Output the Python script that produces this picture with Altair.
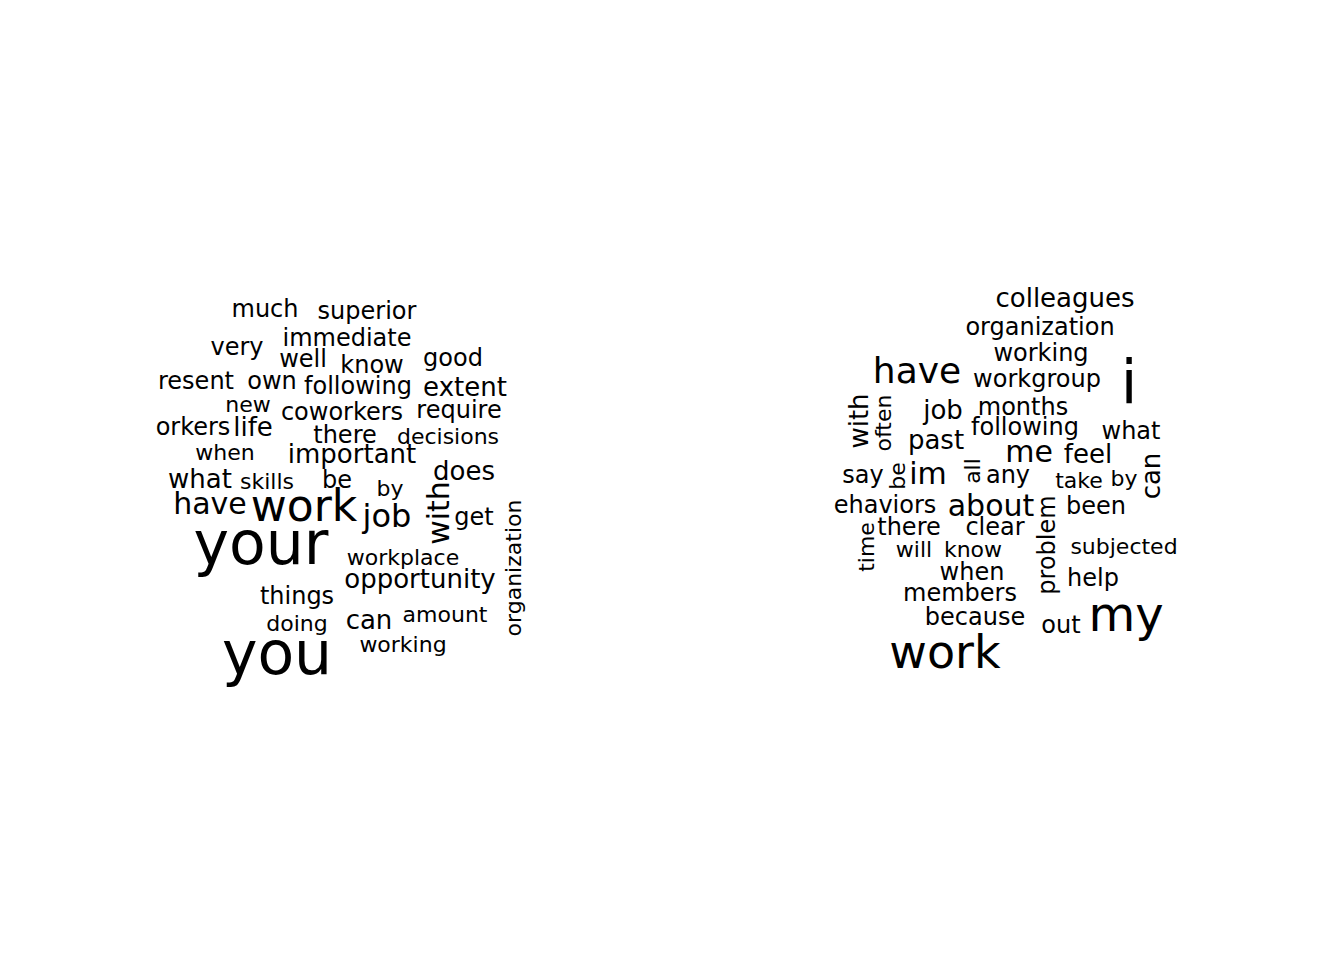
import altair as alt
import pandas as pd

# left cloud
left_words = ["much", "superior", "immediate", "very", "well", "know", "good", "resent", "own",
              "following", "extent", "new", "coworkers", "require", "orkers", "life", "there",
              "decisions", "when", "important", "what", "skills", "be", "does", "by", "have",
              "work", "job", "with", "get", "organization", "your", "workplace", "opportunity",
              "things", "can", "amount", "doing", "working", "you"]
left_x = [265, 367, 347, 237, 303, 372, 453, 196, 272, 358, 465, 248, 342, 459, 193, 253, 345,
          448, 225, 352, 200, 267, 337, 464, 390, 210, 304, 387, 440, 474, 514, 261, 403, 420,
          297, 369, 445, 297, 403, 277]
left_y = [310, 312, 339, 348, 360, 366, 359, 382, 382, 387, 388, 405, 413, 411, 428, 428, 436,
          437, 453, 455, 480, 482, 481, 472, 489, 505, 508, 517, 513, 518, 568, 546, 558, 580,
          597, 621, 615, 624, 645, 656]
left_size = [24, 24, 24, 24, 24, 24, 24, 24, 24, 24, 26, 22, 24, 24, 24, 26, 24, 22, 22, 26,
             26, 22, 24, 26, 22, 30, 44, 32, 30, 24, 22, 60, 22, 26, 24, 26, 22, 22, 22, 60]
left_rot = ["with", "organization"]

# right cloud
right_words = ["colleagues", "organization", "working", "have", "workgroup", "i", "with", "often",
               "job", "months", "following", "what", "past", "me", "feel", "say", "be", "im",
               "all", "any", "take", "by", "can", "ehaviors", "about", "been", "problem", "there",
               "clear", "time", "will", "know", "subjected", "when", "help", "members", "my",
               "because", "out", "work"]
right_x = [1065, 1040, 1041, 917, 1037, 1129, 860, 884, 943, 1023, 1025, 1131, 936, 1029, 1088,
           863, 898, 928, 973, 1008, 1079, 1124, 1152, 885, 991, 1096, 1048, 909, 995, 867, 914,
           973, 1124, 972, 1093, 960, 1126, 975, 1061, 945]
right_y = [299, 328, 354, 372, 380, 385, 421, 423, 411, 408, 428, 432, 441, 453, 455, 476, 476,
           475, 471, 476, 481, 479, 476, 506, 507, 507, 545, 528, 528, 547, 550, 550, 547, 573,
           579, 594, 617, 618, 626, 654]
right_size = [26, 24, 24, 36, 24, 60, 26, 22, 26, 24, 24, 24, 26, 30, 26, 24, 22, 30, 22, 24,
              22, 22, 26, 24, 30, 24, 24, 24, 24, 22, 22, 22, 22, 24, 24, 24, 48, 24, 24, 46]
right_rot = ["with", "often", "be", "all", "can", "problem", "time"]

df = pd.concat([
    pd.DataFrame({"word": left_words, "x": left_x, "y": left_y, "size": left_size,
                  "rot": [270 if w in left_rot else 0 for w in left_words]}),
    pd.DataFrame({"word": right_words, "x": right_x, "y": right_y, "size": right_size,
                  "rot": [270 if w in right_rot else 0 for w in right_words]}),
])

base = alt.Chart(df).encode(
    x=alt.X("x:Q", scale=alt.Scale(domain=[8, 1336], nice=False, zero=False), axis=None),
    y=alt.Y("y:Q", scale=alt.Scale(domain=[8, 952], nice=False, zero=False, reverse=True), axis=None),
    text="word:N",
)

size_expr = alt.ExprRef(expr="datum.size")
flat = base.transform_filter("datum.rot == 0").mark_text(
    font="DejaVu Sans", color="black", align="center", baseline="middle", fontSize=size_expr)
turned = base.transform_filter("datum.rot != 0").mark_text(
    font="DejaVu Sans", color="black", align="center", baseline="middle", angle=270,
    fontSize=size_expr)

chart = (flat + turned).properties(
    width=1328, height=944, padding=0, autosize=alt.AutoSizeParams(type="none")
).configure_view(stroke=None)

chart.save("out.html", embed_options={"renderer": "svg", "actions": False})
